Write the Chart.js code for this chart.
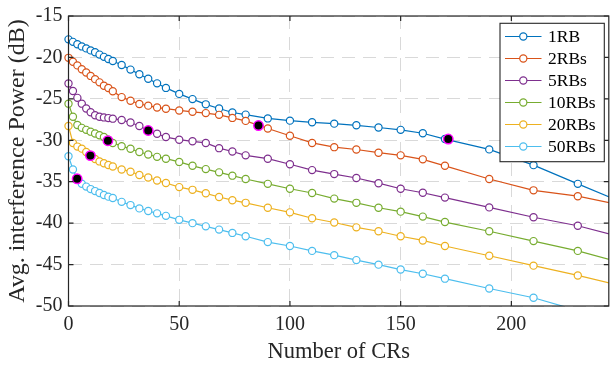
<!DOCTYPE html>
<html>
<head>
<meta charset="utf-8">
<script src="https://cdn.jsdelivr.net/npm/chart.js@4/dist/chart.umd.min.js"></script>
<style>
  html, body { margin: 0; padding: 0; background: #fff; overflow: hidden; }
  canvas { display: block; }
</style>
</head>
<body>
<canvas id="chart" width="615" height="367"></canvas>
<script>
// number of CRs (x samples)
const crs = [0, 2, 4, 6, 8, 10, 12, 14, 16, 18, 20, 24, 28, 32, 36, 40, 44, 50, 56, 62, 68, 74, 80,
  90, 100, 110, 120, 130, 140, 150, 160, 170, 190, 210, 230, 250];

// avg. interference power (dB) per RB setting
const rb1 = [-17.82, -18.12, -18.41, -18.67, -18.91, -19.15, -19.38, -19.66, -19.93, -20.19, -20.43,
  -20.92, -21.47, -22.03, -22.58, -23.13, -23.68, -24.40, -25.03, -25.66, -26.17, -26.65, -26.90,
  -27.36, -27.63, -27.83, -27.99, -28.19, -28.46, -28.74, -29.15, -29.85, -31.10, -33.00, -35.26, -37.50];
const rb2 = [-20.05, -20.52, -20.96, -21.43, -21.82, -22.23, -22.62, -23.01, -23.41, -23.69, -24.08,
  -24.79, -25.22, -25.62, -25.82, -26.05, -26.19, -26.40, -26.56, -26.72, -26.93, -27.30, -27.66,
  -28.58, -29.45, -30.32, -30.83, -31.11, -31.50, -31.82, -32.30, -33.08, -34.67, -36.04, -36.75, -37.84];
const rb5 = [-23.15, -24.06, -24.88, -25.58, -26.17, -26.61, -26.97, -27.16, -27.24, -27.32, -27.39,
  -27.56, -27.85, -28.27, -28.82, -29.22, -29.61, -29.93, -30.12, -30.32, -30.95, -31.35, -31.82,
  -32.22, -32.89, -33.60, -34.08, -34.55, -35.18, -35.85, -36.33, -36.92, -38.10, -39.29, -40.31, -41.70];
const rb10 = [-25.58, -27.16, -28.15, -28.50, -28.74, -28.96, -29.18, -29.40, -29.61, -29.94, -30.32,
  -30.71, -31.03, -31.42, -31.71, -32.00, -32.22, -32.61, -33.08, -33.48, -33.87, -34.27, -34.67,
  -35.26, -35.85, -36.36, -37.04, -37.55, -38.14, -38.61, -39.21, -39.87, -40.98, -42.17, -43.35, -44.80];
const rb20 = [-28.27, -30.32, -30.76, -31.01, -31.42, -31.80, -32.25, -32.55, -32.78, -32.99, -33.16,
  -33.52, -33.79, -34.19, -34.50, -34.86, -35.16, -35.65, -35.98, -36.40, -36.84, -37.23, -37.55,
  -38.14, -38.70, -39.41, -39.92, -40.51, -40.98, -41.58, -42.09, -42.76, -43.94, -45.13, -46.31, -47.60];
const rb50 = [-31.92, -33.52, -34.68, -35.24, -35.59, -35.89, -36.13, -36.36, -36.60, -36.80, -36.96,
  -37.43, -37.82, -38.22, -38.53, -38.82, -39.12, -39.60, -40.00, -40.39, -40.78, -41.18, -41.58,
  -42.29, -42.76, -43.35, -43.86, -44.46, -45.01, -45.60, -46.11, -46.70, -47.89, -49.00, -50.55, -52.10];

// highlighted points (black with magenta edge)
const markX = [171.5, 85.8, 36, 17.8, 9.9, 3.9];
const markY = [-29.85, -28.22, -28.82, -30.05, -31.85, -34.65];

const names = ['1RB', '2RBs', '5RBs', '10RBs', '20RBs', '50RBs'];
const colors = ['#0072BD', '#D95319', '#7E2F8E', '#77AC30', '#EDB120', '#4DBEEE'];
const xTicks = [0, 50, 100, 150, 200];
const yTicks = [-50, -45, -40, -35, -30, -25, -20, -15];

const FONT = "'Liberation Serif', 'Times New Roman', serif";
const INK = '#262626';

const series = [rb1, rb2, rb5, rb10, rb20, rb50];
const datasets = series.map((s, i) => ({
  label: names[i],
  data: crs.map((c, j) => ({ x: c, y: s[j] })),
  borderColor: colors[i],
  borderWidth: 1.2,
  pointRadius: 3.6,
  pointBorderWidth: 1.2,
  pointBorderColor: colors[i],
  pointBackgroundColor: '#fff',
  showLine: true,
  tension: 0,
  order: 6 - i,
  clip: { left: 8, top: 8, right: 0, bottom: 0 }
}));
datasets.push({
  label: 'mark',
  data: markX.map((x, i) => ({ x: x, y: markY[i] })),
  showLine: false,
  pointRadius: 4.7,
  pointBorderWidth: 1.5,
  pointBackgroundColor: '#000',
  pointBorderColor: '#ff00ff',
  order: -1,
  clip: false
});

// box round the axes with inward ticks, MATLAB style
const axesBox = {
  id: 'axesBox',
  afterDraw(chart) {
    const { ctx, chartArea: a, scales: { x, y } } = chart;
    ctx.save();
    ctx.strokeStyle = INK;
    ctx.lineWidth = 1.2;
    ctx.beginPath();
    xTicks.forEach(v => {
      const px = x.getPixelForValue(v);
      ctx.moveTo(px, a.bottom); ctx.lineTo(px, a.bottom - 5);
      ctx.moveTo(px, a.top); ctx.lineTo(px, a.top + 5);
    });
    yTicks.forEach(v => {
      const py = y.getPixelForValue(v);
      ctx.moveTo(a.left, py); ctx.lineTo(a.left + 5, py);
      ctx.moveTo(a.right, py); ctx.lineTo(a.right - 5, py);
    });
    ctx.stroke();
    ctx.strokeRect(a.left, a.top, a.right - a.left, a.bottom - a.top);
    ctx.restore();
  }
};

// legend box inside the plot, top right
const boxLegend = {
  id: 'boxLegend',
  afterDraw(chart) {
    const ctx = chart.ctx;
    const L = 500, T = 23.3, R = 604.3, B = 161.7;
    ctx.save();
    ctx.fillStyle = '#fff';
    ctx.fillRect(L, T, R - L, B - T);
    ctx.strokeStyle = INK;
    ctx.lineWidth = 1.1;
    ctx.strokeRect(L, T, R - L, B - T);
    ctx.font = '17.5px ' + FONT;
    ctx.textBaseline = 'middle';
    ctx.textAlign = 'left';
    chart.data.datasets.slice(0, names.length).forEach((ds, i) => {
      const yy = 36.5 + i * 22;
      ctx.strokeStyle = ds.borderColor;
      ctx.lineWidth = 1.2;
      ctx.beginPath();
      ctx.moveTo(505, yy); ctx.lineTo(541.5, yy);
      ctx.stroke();
      ctx.beginPath();
      ctx.arc(523.3, yy, 3.6, 0, Math.PI * 2);
      ctx.fillStyle = '#fff';
      ctx.fill();
      ctx.stroke();
      ctx.fillStyle = '#000';
      ctx.fillText(ds.label, 548, yy + 1);
    });
    ctx.restore();
  }
};

new Chart(document.getElementById('chart'), {
  type: 'scatter',
  data: { datasets: datasets },
  options: {
    responsive: false,
    animation: false,
    devicePixelRatio: 1,
    layout: { padding: { top: 10.7, left: 0, right: 0, bottom: 0 } },
    plugins: {
      legend: { display: false },
      tooltip: { enabled: false }
    },
    scales: {
      x: {
        type: 'linear',
        position: 'bottom',
        min: 0,
        max: 244,
        afterFit(s) { s.height = 61; },
        afterBuildTicks(s) { s.ticks = xTicks.map(v => ({ value: v })); },
        ticks: {
          font: { family: FONT, size: 20, lineHeight: 1.2 },
          color: INK,
          padding: 7,
          maxRotation: 0,
          autoSkip: false,
          callback: v => String(v)
        },
        grid: { color: '#d9d9d9', lineWidth: 1, drawTicks: false },
        border: { display: false, dash: [13, 8] },
        title: {
          display: true,
          text: 'Number of CRs',
          font: { family: FONT, size: 22.5, lineHeight: 1.2 },
          color: INK,
          padding: { top: 0, bottom: 1.5 }
        }
      },
      y: {
        type: 'linear',
        min: -50,
        max: -15,
        afterFit(s) { s.width = 68.5; },
        afterBuildTicks(s) { s.ticks = yTicks.map(v => ({ value: v })); },
        ticks: {
          font: { family: FONT, size: 20, lineHeight: 1 },
          color: INK,
          padding: 6,
          callback: v => String(v)
        },
        grid: { color: '#d9d9d9', lineWidth: 1, drawTicks: false },
        border: { display: false, dash: [13, 8] },
        title: {
          display: true,
          text: 'Avg. interference Power (dB)',
          font: { family: FONT, size: 24, lineHeight: 1.2 },
          color: INK,
          padding: { top: 3, bottom: 0 }
        }
      }
    }
  },
  plugins: [axesBox, boxLegend]
});
</script>
</body>
</html>
